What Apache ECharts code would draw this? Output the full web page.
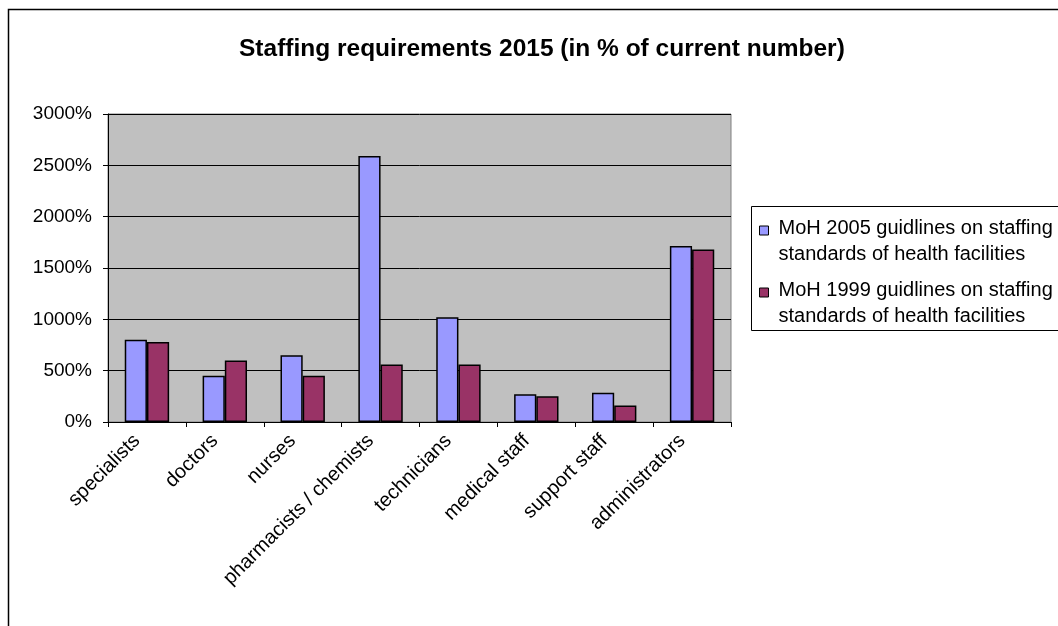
<!DOCTYPE html>
<html>
<head>
<meta charset="utf-8">
<script src="https://cdn.jsdelivr.net/npm/echarts@6/dist/echarts.min.js"></script>
<style>
  html, body { margin: 0; padding: 0; background: #ffffff; }
  #chart { width: 1058px; height: 626px; }
</style>
</head>
<body>
<div id="chart"></div>
<script>
// Staff categories along the x axis
const categories = ['specialists', 'doctors', 'nurses', 'pharmacists / chemists',
  'technicians', 'medical staff', 'support staff', 'administrators'];

// Required staffing in 2015, as % of the current number
const moh2005 = [800, 450, 650, 2590, 1020, 270, 285, 1715];
const moh1999 = [780, 600, 450, 560, 560, 250, 160, 1680];

const seriesNames = [
  'MoH 2005 guidlines on staffing\nstandards of health facilities',
  'MoH 1999 guidlines on staffing\nstandards of health facilities'
];
const seriesColors = ['#9999FF', '#993366'];

const yTicks = { min: 0, max: 3000, interval: 500 };

const FONT = '"Liberation Sans", Arial, sans-serif';

const chart = echarts.init(document.getElementById('chart'), null, { renderer: 'canvas' });

const barSeries = [moh2005, moh1999].map((values, i) => ({
  name: seriesNames[i],
  type: 'bar',
  data: values,
  barGap: '0%',
  barCategoryGap: '43%',
  itemStyle: { color: seriesColors[i], borderColor: '#000000', borderWidth: 1.5 },
  emphasis: { disabled: true }
}));

// Legend box drawn as a small group on the right
const legendItems = seriesNames.map((name, i) => ({
  type: 'group',
  left: 759,
  top: 216 + i * 62,
  children: [
    { type: 'rect', shape: { x: 0, y: 0, width: 9, height: 9 },
      style: { fill: seriesColors[i], stroke: '#000000', lineWidth: 1 } },
    { type: 'text', x: 19, y: -10,
      style: { text: name, font: '20px ' + FONT, fill: '#000000', lineHeight: 25.5 } }
  ]
}));

chart.setOption({
  animation: false,
  backgroundColor: '#ffffff',
  title: {
    text: 'Staffing requirements 2015 (in % of current number)',
    left: 234,
    top: 32,
    textStyle: { fontFamily: FONT, fontWeight: 'bold', fontSize: 24.5, color: '#000000' }
  },
  grid: {
    left: 108, top: 114, width: 623, height: 308,
    show: true, backgroundColor: '#C0C0C0', borderColor: '#808080', borderWidth: 1
  },
  xAxis: {
    type: 'category',
    data: categories,
    axisLine: { lineStyle: { color: '#000000', width: 1 } },
    axisTick: { show: true, length: 5, lineStyle: { color: '#000000' } },
    axisLabel: {
      rotate: 45, interval: 0, margin: 6,
      padding: [0, 14, 0, 0],
      fontFamily: FONT, fontSize: 20, color: '#000000'
    },
    splitLine: { show: false }
  },
  yAxis: {
    type: 'value',
    min: yTicks.min, max: yTicks.max, interval: yTicks.interval,
    axisLine: { show: true, lineStyle: { color: '#000000', width: 1 } },
    axisTick: { show: true, length: 5, lineStyle: { color: '#000000' } },
    axisLabel: {
      formatter: (v) => v + '%', margin: 16,
      fontFamily: FONT, fontSize: 19, color: '#000000'
    },
    splitLine: { show: true, lineStyle: { color: '#000000', width: 1 } }
  },
  series: barSeries,
  graphic: [
    // outer chart frame
    { type: 'rect', left: 6, top: 7, silent: true,
      shape: { x: 0, y: 0, width: 1100, height: 700 },
      style: { fill: 'none', stroke: '#000000', lineWidth: 1.5 } },
    // legend frame
    { type: 'rect', left: 751, top: 206, silent: true,
      shape: { x: 0, y: 0, width: 400, height: 124 },
      style: { fill: '#ffffff', stroke: '#000000', lineWidth: 1 } },
    ...legendItems
  ]
});
</script>
</body>
</html>
